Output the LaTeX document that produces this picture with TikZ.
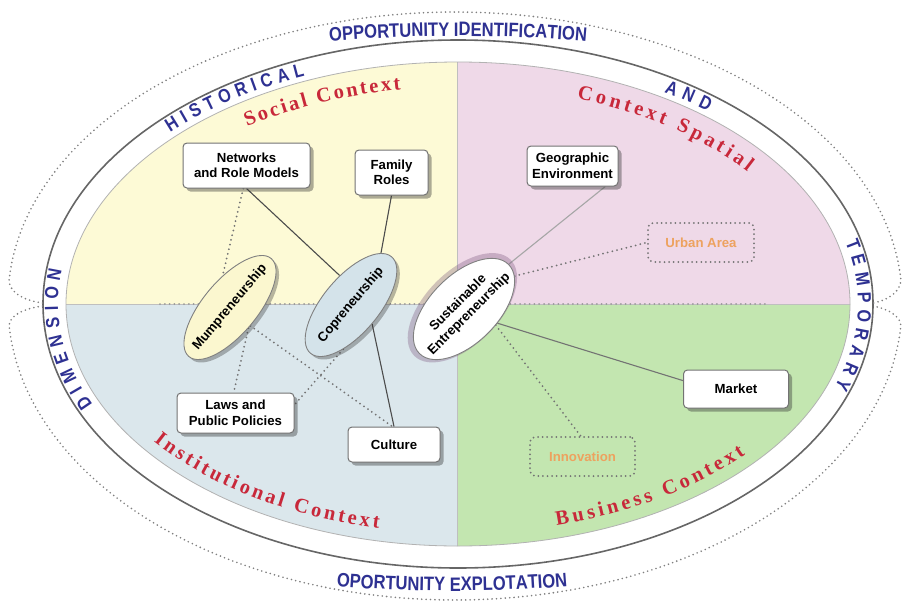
\documentclass[tikz,border=0pt]{standalone}
\usepackage{fontspec}
\setmainfont{Liberation Sans}
\newfontfamily\bandfont[FakeStretch=0.85]{Liberation Sans}
\newfontfamily\redfont{Liberation Serif}
\usetikzlibrary{shapes.geometric,decorations.text,calc,shadows}
\definecolor{bandblue}{HTML}{2E3192}
\definecolor{ctxred}{HTML}{C8283A}
\definecolor{qyellow}{HTML}{FDFAD6}
\definecolor{qpink}{HTML}{EFD9E8}
\definecolor{qblue}{HTML}{DBE7EC}
\definecolor{qgreen}{HTML}{C3E6B0}
\definecolor{orangetxt}{HTML}{EDA25F}
\definecolor{mumfill}{HTML}{FBF7CF}
\definecolor{copfill}{HTML}{D4E3EA}
\definecolor{glow}{HTML}{7E5A80}
\newcommand{\boxfnt}{\fontsize{13.2}{15.5}\selectfont\bfseries}
\newcommand{\bandtxt}{\bandfont\bfseries\fontsize{19}{19}\selectfont}
\newcommand{\opptxt}{\bandfont\bfseries\fontsize{19.5}{20}\selectfont}
\newcommand{\redtxt}{\redfont\bfseries\fontsize{20.5}{20.5}\selectfont}
\pgfdeclarelayer{bg}
\pgfdeclarelayer{lines}
\pgfsetlayers{bg,lines,main}
\tikzset{
  box/.style={draw=black!55, line width=1pt, fill=white, rounded corners=4pt, align=center, inner sep=0pt, font=\boxfnt,
    drop shadow={shadow xshift=3.5pt, shadow yshift=-3.5pt, opacity=0.4, fill=black!80}},
  dbox/.style={draw=black!55, line width=2pt, dash pattern=on 0pt off 4.6pt, line cap=round, rounded corners=5pt,
    align=center, inner sep=0pt, font=\boxfnt, text=orangetxt},
  elln/.style={ellipse, draw=black!50, line width=0.9pt, inner sep=0pt, font=\boxfnt},
  conn/.style={draw=black!70, line width=1.1pt},
  dconn/.style={draw=black!55, line width=2pt, dash pattern=on 0pt off 4.8pt, line cap=round},
  outdot/.style={draw=black!50, line width=1.8pt, dash pattern=on 0pt off 4.4pt, line cap=round},
  bandtext/.style={decorate, decoration={text along path, text={|\bandtxt|#1}, text color=bandblue, text align={fit to path}}},
  opptext/.style={decorate, decoration={text along path, text={|\opptxt|#1}, text color=bandblue, text align={center}}},
  redtext/.style={decorate, decoration={text along path, text={|\redtxt|#1}, text color=ctxred, text align={fit to path}}}
}
\begin{document}
\begin{tikzpicture}[x=1pt,y=-1pt]
\useasboundingbox (0,0) rectangle (904,602);
\coordinate (C) at (458,304);
\begin{pgfonlayer}{bg}
  \fill[white] (0,0) rectangle (904,602);
  \begin{scope}
    \clip (C) ellipse [x radius=392pt, y radius=242pt];
    \fill[qyellow] (0,0) rectangle (457,304);
    \fill[qpink] (457,0) rectangle (904,304);
    \fill[qblue] (0,304) rectangle (457,602);
    \fill[qgreen] (457,304) rectangle (904,602);
    \draw[black!25, line width=0.8pt] (0,304) -- (904,304) (457,0) -- (457,602);
  \end{scope}
  \draw[black!30, line width=0.8pt] (C) ellipse [x radius=392pt, y radius=242pt];
  \draw[black!60, line width=1.6pt] (C) ellipse [x radius=415pt, y radius=264pt];
  \draw[dconn, draw=black!40] (160,304) -- (767,304);
  \draw[outdot] (42.5,303) .. controls (22,300) and (9.5,292) .. (9.1,280)
     -- plot[domain=176:4, samples=120, variable=\t] ({455+447*cos(\t)},{300-288*sin(\t)})
     .. controls (900.5,292) and (888,300) .. (873.5,303);
  \draw[outdot] (42.5,306) .. controls (22,309) and (9.5,316) .. (9.1,325.6)
     -- plot[domain=184:356, samples=120, variable=\t] ({455+447*cos(\t)},{305-295*sin(\t)})
     .. controls (900.5,316) and (888,309) .. (873.5,306);
\end{pgfonlayer}

% boxes
\node[box, minimum width=127pt, minimum height=45pt] (net) at (246.5,165.5) {Networks\\and Role Models};
\node[box, minimum width=73pt, minimum height=45pt] (fam) at (391.5,172.5) {Family\\Roles};
\node[box, minimum width=91pt, minimum height=40pt] (geo) at (572.5,166) {Geographic\\Environment};
\node[dbox, minimum width=106pt, minimum height=39pt] (urb) at (701,242.5) {Urban Area};
\node[box, minimum width=105pt, minimum height=38pt] (mkt) at (736,389) {Market};
\node[dbox, minimum width=105pt, minimum height=39pt] (inn) at (582.5,456.5) {Innovation};
\node[box, minimum width=117pt, minimum height=40pt] (laws) at (235.5,413) {Laws and\\Public Policies};
\node[box, minimum width=92pt, minimum height=35pt] (cul) at (394,444.5) {Culture};

% ellipses
\node[elln, fill=mumfill, rotate=50, minimum width=128pt, minimum height=54pt,
  drop shadow={shadow xshift=3pt, shadow yshift=-3pt, opacity=0.35, fill=black!80}] (mum) at (230,307.5) {\makebox[0pt]{Mumpreneurship}};
\node[elln, fill=copfill, rotate=50, minimum width=126pt, minimum height=56pt,
  drop shadow={shadow xshift=3pt, shadow yshift=-3pt, opacity=0.35, fill=black!80}] (cop) at (351,305) {\makebox[0pt]{Copreneurship}};
\node[elln, fill=white, rotate=45, minimum width=126pt, minimum height=68pt,
  drop shadow={shadow xshift=-1.5pt, shadow yshift=1.5pt, shadow scale=1.08, opacity=0.35, fill=glow}] (sus) at (464,309)
  {\makebox[0pt]{\begin{tabular}{@{}c@{}}Sustainable\\Entrepreneurship\end{tabular}}};

% connectors
\begin{pgfonlayer}{lines}
  \draw[conn] (net.270) -- (cop.61);
  \draw[dconn] (net.262) -- (mum.53);
  \draw[conn] (fam.south) -- (cop.10);
  \draw[conn] (cop.-92) -- (cul.north);
  \draw[dconn] (mum.-92) -- (cul.95);
  \draw[dconn] (mum.-98) -- (laws.95);
  \draw[dconn] (cop.-150) -- (laws.8);
  \draw[conn, draw=black!35] (sus.0) -- (geo.-32);
  \draw[dconn] (sus.-12) -- (urb.west);
  \draw[conn, draw=black!55] (sus.-68) -- (mkt.171);
  \draw[dconn] (sus.-72) -- (inn.95);
\end{pgfonlayer}

% band texts
\path[bandtext=HISTORICAL] ($(C)+(136:400pt and 247pt)$) arc[start angle=136, end angle=112.5, x radius=400pt, y radius=247pt];
\path[bandtext=AND] ($(C)+(59:400pt and 247pt)$) arc[start angle=59, end angle=51.3, x radius=400pt, y radius=247pt];
\path[bandtext=DIMENSION] ($(C)+(204:400pt and 247pt)$) arc[start angle=204, end angle=172, x radius=400pt, y radius=247pt];
\path[bandtext=TEMPORARY] ($(C)+(14.5:400pt and 247pt)$) arc[start angle=14.5, end angle=-19.6, x radius=400pt, y radius=247pt];
\path[opptext=OPPORTUNITY IDENTIFICATION] ($(C)+(118:640pt and 268pt)$) arc[start angle=118, end angle=62, x radius=640pt, y radius=268pt];
\path[opptext=OPORTUNITY EXPLOTATION] ($(452,304)+(242:640pt and 287pt)$) arc[start angle=242, end angle=298, x radius=640pt, y radius=287pt];

% context texts
\path[redtext=Social Context] ($(C)+(125.3:365pt and 217pt)$) arc[start angle=125.3, end angle=99, x radius=365pt, y radius=217pt];
\path[redtext=Context Spatial] ($(C)+(71:365pt and 217pt)$) arc[start angle=71, end angle=37.5, x radius=365pt, y radius=217pt];
\path[redtext=Institutional Context] ($(C)+(217:381pt and 229pt)$) arc[start angle=217, end angle=258, x radius=381pt, y radius=229pt];
\path[redtext=Business Context] ($(C)+(285:381pt and 229pt)$) arc[start angle=285, end angle=319, x radius=381pt, y radius=229pt];
\end{tikzpicture}
\end{document}
